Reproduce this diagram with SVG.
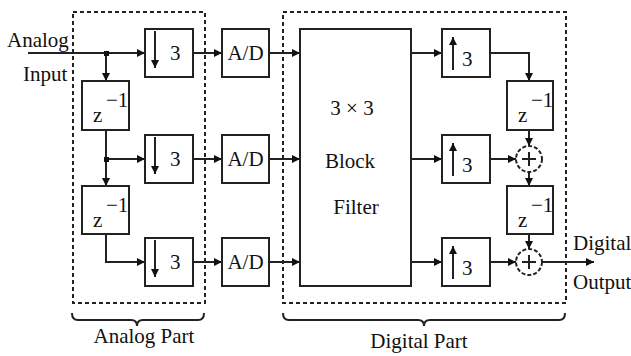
<svg xmlns="http://www.w3.org/2000/svg" width="631" height="356" viewBox="0 0 631 356">
<defs>
<style>
.box{fill:#fff;stroke:#222;stroke-width:2}
.dash{fill:none;stroke:#222;stroke-width:2;stroke-dasharray:4 3}
.ln{fill:none;stroke:#222;stroke-width:2}
.t{font-family:"Liberation Serif","Times New Roman",serif;font-size:21px;fill:#111}
.mid{text-anchor:middle}
.brace{fill:none;stroke:#222;stroke-width:2}
</style>
<marker id="ah" viewBox="0 0 8 8" refX="8" refY="4" markerWidth="8" markerHeight="8" markerUnits="userSpaceOnUse" orient="auto">
<path d="M0,0 L8,4 L0,8 Z" fill="#111"/>
</marker>
</defs>
<rect width="631" height="356" fill="#fff"/>

<g id="analog-part">
<rect class="dash" x="73" y="12" width="132" height="291"/>
<path class="brace" d="M72,313 Q72,320 78,320 L131,320 Q137,320 137,326 Q137,320 143,320 L198,320 Q204,320 204,313"/>
<text class="t mid" x="144" y="343">Analog Part</text>
</g>
<g id="digital-part">
<rect class="dash" x="283" y="12" width="283" height="291"/>
<path class="brace" d="M283,313 Q283,320 289,320 L418,320 Q424,320 424,326 Q424,320 430,320 L559,320 Q565,320 565,313"/>
<text class="t mid" x="419" y="348">Digital Part</text>
</g>

<g id="labels">
<text class="t" x="7" y="47">Analog</text>
<text class="t" x="23" y="81">Input</text>
<text class="t" x="573" y="250">Digital</text>
<text class="t" x="573" y="289">Output</text>
</g>

<g id="connectors">
<path class="ln" d="M28,53 H145" marker-end="url(#ah)"/>
<path class="ln" d="M106,53 V81" marker-end="url(#ah)"/>
<path class="ln" d="M106,130 V159 H145" marker-end="url(#ah)"/>
<path class="ln" d="M106,159 V186" marker-end="url(#ah)"/>
<path class="ln" d="M106,234 V262 H145" marker-end="url(#ah)"/>
<rect x="104" y="51" width="5" height="5" fill="#111"/>
<rect x="104" y="157" width="5" height="5" fill="#111"/>
<path class="ln" d="M193,53 H222" marker-end="url(#ah)"/>
<path class="ln" d="M193,159 H222" marker-end="url(#ah)"/>
<path class="ln" d="M193,262 H222" marker-end="url(#ah)"/>
<path class="ln" d="M269,53 H300" marker-end="url(#ah)"/>
<path class="ln" d="M269,159 H300" marker-end="url(#ah)"/>
<path class="ln" d="M269,262 H300" marker-end="url(#ah)"/>
<path class="ln" d="M411,53 H442" marker-end="url(#ah)"/>
<path class="ln" d="M411,159 H442" marker-end="url(#ah)"/>
<path class="ln" d="M411,262 H442" marker-end="url(#ah)"/>
<path class="ln" d="M490,53 H529 V81" marker-end="url(#ah)"/>
<path class="ln" d="M529,130 V146" marker-end="url(#ah)"/>
<path class="ln" d="M490,159 H516" marker-end="url(#ah)"/>
<path class="ln" d="M529,172 V186" marker-end="url(#ah)"/>
<path class="ln" d="M529,234 V249" marker-end="url(#ah)"/>
<path class="ln" d="M490,262 H516" marker-end="url(#ah)"/>
<path class="ln" d="M542,262 H594" marker-end="url(#ah)"/>
</g>

<g id="down1"><rect class="box" x="145" y="29" width="48" height="48"/><path class="ln" d="M155,31 V68" marker-end="url(#ah)"/><text class="t" x="170" y="60">3</text></g>
<g id="down2"><rect class="box" x="145" y="135" width="48" height="48"/><path class="ln" d="M155,137 V174" marker-end="url(#ah)"/><text class="t" x="170" y="166">3</text></g>
<g id="down3"><rect class="box" x="145" y="238" width="48" height="48"/><path class="ln" d="M155,240 V277" marker-end="url(#ah)"/><text class="t" x="170" y="269">3</text></g>

<g id="delayA1"><rect class="box" x="82" y="81" width="47" height="49"/><text class="t" x="93" y="122">z</text><text class="t" x="106" y="107">−1</text></g>
<g id="delayA2"><rect class="box" x="82" y="186" width="47" height="48"/><text class="t" x="93" y="227">z</text><text class="t" x="106" y="212">−1</text></g>

<g id="ad1"><rect class="box" x="222" y="29" width="47" height="48"/><text class="t mid" x="245.5" y="60">A/D</text></g>
<g id="ad2"><rect class="box" x="222" y="135" width="47" height="48"/><text class="t mid" x="245.5" y="166">A/D</text></g>
<g id="ad3"><rect class="box" x="222" y="238" width="47" height="48"/><text class="t mid" x="245.5" y="269">A/D</text></g>

<g id="filter"><rect class="box" x="300" y="29" width="111" height="257"/>
<text class="t mid" x="352" y="115">3 × 3</text>
<text class="t mid" x="350" y="168">Block</text>
<text class="t mid" x="356" y="214">Filter</text></g>

<g id="up1"><rect class="box" x="442" y="29" width="48" height="48"/><path class="ln" d="M453,70 V37" marker-end="url(#ah)"/><text class="t" x="462" y="66">3</text></g>
<g id="up2"><rect class="box" x="442" y="135" width="48" height="48"/><path class="ln" d="M453,176 V143" marker-end="url(#ah)"/><text class="t" x="462" y="172">3</text></g>
<g id="up3"><rect class="box" x="442" y="238" width="48" height="48"/><path class="ln" d="M453,279 V246" marker-end="url(#ah)"/><text class="t" x="462" y="275">3</text></g>

<g id="delayD1"><rect class="box" x="507" y="81" width="46" height="49"/><text class="t" x="518" y="122">z</text><text class="t" x="531" y="107">−1</text></g>
<g id="delayD2"><rect class="box" x="507" y="186" width="46" height="48"/><text class="t" x="518" y="227">z</text><text class="t" x="531" y="212">−1</text></g>

<g id="add1"><circle cx="529" cy="159" r="13" fill="#fff" stroke="#222" stroke-width="2" stroke-dasharray="4 2"/><path class="ln" d="M522,159 H536 M529,152 V166"/></g>
<g id="add2"><circle cx="529" cy="262" r="13" fill="#fff" stroke="#222" stroke-width="2" stroke-dasharray="4 2"/><path class="ln" d="M522,262 H536 M529,255 V269"/></g>
</svg>
